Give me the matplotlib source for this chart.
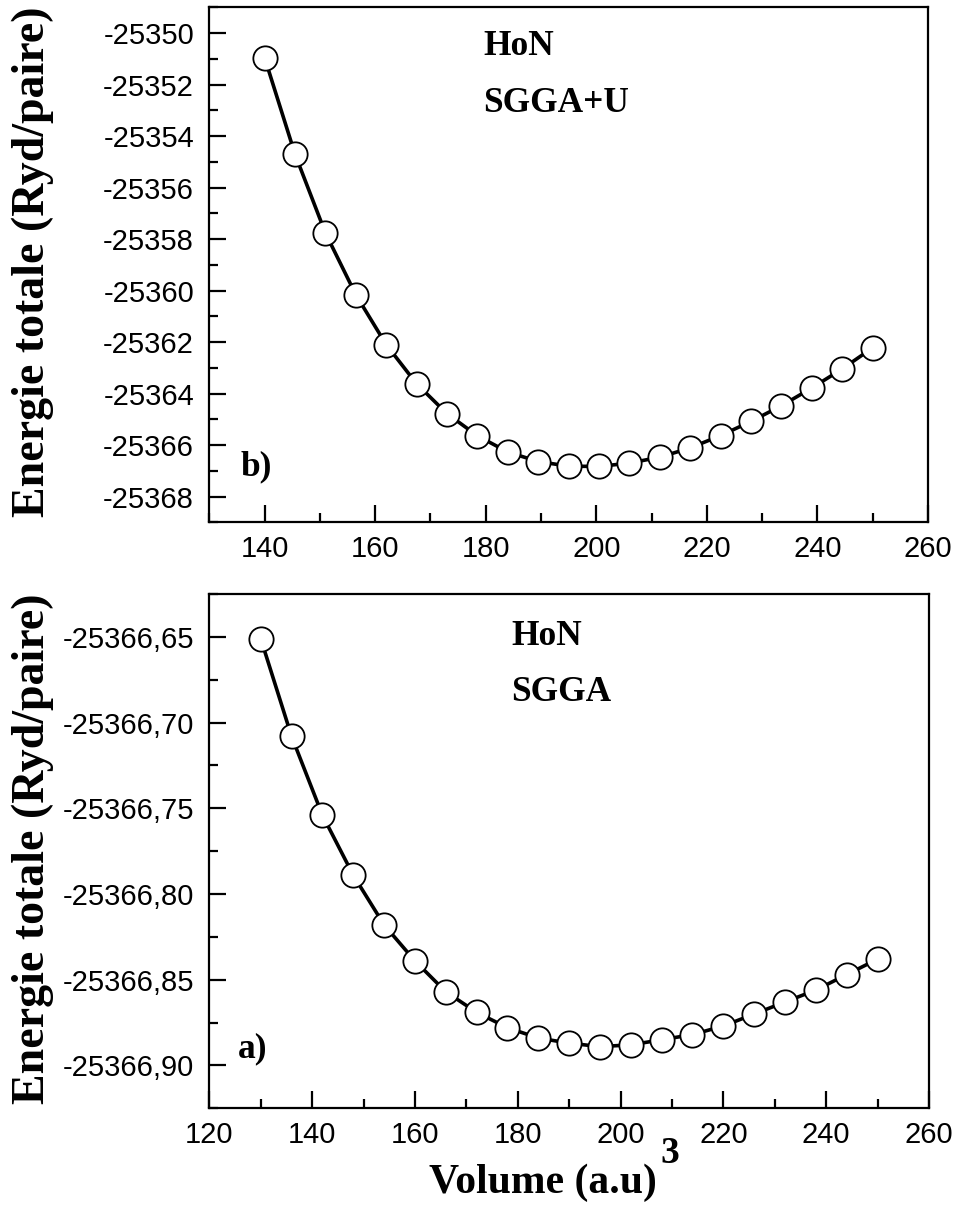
import numpy as np
import matplotlib
matplotlib.use("Agg")
import matplotlib.pyplot as plt
from matplotlib.ticker import MultipleLocator, FuncFormatter

# panel b) SGGA+U
vol_u = [140, 145.5, 151, 156.5, 162, 167.5, 173, 178.5, 184, 189.5, 195,
         200.5, 206, 211.5, 217, 222.5, 228, 233.5, 239, 244.5, 250]
e_u = [-25350.95, -25354.70, -25357.76, -25360.16, -25362.10, -25363.62,
       -25364.78, -25365.64, -25366.27, -25366.64, -25366.82, -25366.83,
       -25366.70, -25366.47, -25366.11, -25365.63, -25365.08, -25364.47,
       -25363.78, -25363.04, -25362.22]

# panel a) SGGA
vol_g = [130, 136, 142, 148, 154, 160, 166, 172, 178, 184, 190,
         196, 202, 208, 214, 220, 226, 232, 238, 244, 250]
e_g = [-25366.651, -25366.708, -25366.754, -25366.789, -25366.818, -25366.839,
       -25366.857, -25366.869, -25366.878, -25366.884, -25366.887, -25366.889,
       -25366.888, -25366.885, -25366.882, -25366.877, -25366.870, -25366.863,
       -25366.856, -25366.847, -25366.838]

serif = "Liberation Serif"
sans = "Liberation Sans"

fig = plt.figure(figsize=(9.57, 12.06), dpi=100)
ax_top = fig.add_axes([0.2187, 0.5669, 0.7510, 0.4270])
ax_bot = fig.add_axes([0.2187, 0.0810, 0.7520, 0.4265])


def style(ax):
    for s in ax.spines.values():
        s.set_linewidth(1.6)
    ax.tick_params(which="both", direction="in", top=False, right=False, width=1.6)
    ax.tick_params(which="major", length=12)
    ax.tick_params(which="minor", length=6.5)
    ax.tick_params(axis="x", pad=9)
    ax.tick_params(axis="y", pad=11)
    for lab in ax.get_xticklabels():
        lab.set_fontfamily(sans)
        lab.set_fontsize(21)
    for lab in ax.get_yticklabels():
        lab.set_fontfamily(sans)
        lab.set_fontsize(21)


def curve(ax, x, y):
    ax.plot(x, y, "-", color="black", lw=2.6, marker="o", ms=17.5,
            mfc="white", mec="black", mew=1.3)


# top panel
curve(ax_top, vol_u, e_u)
ax_top.set_xlim(130, 260)
ax_top.set_ylim(-25369, -25349)
ax_top.xaxis.set_minor_locator(MultipleLocator(10))
ax_top.set_xticks(np.arange(140, 261, 20))
ax_top.yaxis.set_major_locator(MultipleLocator(2))
ax_top.yaxis.set_minor_locator(MultipleLocator(1))
ax_top.yaxis.set_major_formatter(FuncFormatter(lambda v, p: "%d" % round(v)))
style(ax_top)
ax_top.text(0.381, 0.907, "HoN", transform=ax_top.transAxes, fontfamily=serif,
            fontweight="bold", fontsize=25.5, va="baseline")
ax_top.text(0.381, 0.797, "SGGA+U", transform=ax_top.transAxes, fontfamily=serif,
            fontweight="bold", fontsize=25.5, va="baseline")
ax_top.text(0.043, 0.092, "b)", transform=ax_top.transAxes, fontfamily=serif,
            fontweight="bold", fontsize=25.5, va="baseline")

# bottom panel
curve(ax_bot, vol_g, e_g)
ax_bot.set_xlim(120, 260)
ax_bot.set_ylim(-25366.925, -25366.625)
ax_bot.xaxis.set_major_locator(MultipleLocator(20))
ax_bot.xaxis.set_minor_locator(MultipleLocator(10))
ax_bot.yaxis.set_major_locator(MultipleLocator(0.05))
ax_bot.yaxis.set_minor_locator(MultipleLocator(0.025))
ax_bot.yaxis.set_major_formatter(
    FuncFormatter(lambda v, p: ("%.2f" % v).replace(".", ",")))
style(ax_bot)
ax_bot.text(0.42, 0.901, "HoN", transform=ax_bot.transAxes, fontfamily=serif,
            fontweight="bold", fontsize=25.5, va="baseline")
ax_bot.text(0.42, 0.791, "SGGA", transform=ax_bot.transAxes, fontfamily=serif,
            fontweight="bold", fontsize=25.5, va="baseline")
ax_bot.text(0.04, 0.100, "a)", transform=ax_bot.transAxes, fontfamily=serif,
            fontweight="bold", fontsize=25.5, va="baseline")

# axis labels
for yc in (1 - 262 / 1206, 1 - 849 / 1206):
    fig.text(33 / 957, yc, "Energie totale (Ryd/paire)", rotation=90,
             ha="center", va="center", fontfamily=serif, fontweight="bold",
             fontsize=33)
fig.text(657 / 957, 1 - 1193 / 1206, "Volume (a.u)", ha="right",
         va="baseline", fontfamily=serif, fontweight="bold", fontsize=30)
fig.text(660 / 957, 1 - 1163 / 1206, "3", ha="left",
         va="baseline", fontfamily=serif, fontweight="bold", fontsize=27)

fig.savefig("out.png", dpi=100)
